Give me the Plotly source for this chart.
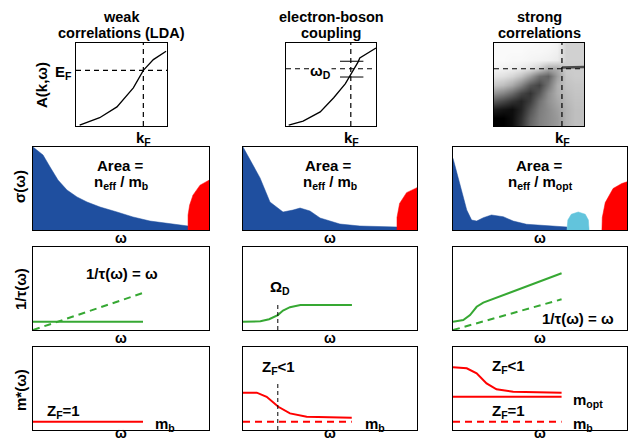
import plotly.graph_objects as go

W, H = 631, 443

# ---------------- data ----------------
# Row 1: dispersion A(k, w)  (k and energy as panel fractions)
lda_k = [0.04, 0.26, 0.45, 0.63, 0.74, 0.85, 0.99]
lda_e = [0.01, 0.10, 0.23, 0.46, 0.67, 0.80, 0.90]
eb_k = [0.03, 0.19, 0.38, 0.53, 0.66, 0.71, 0.74, 0.77, 0.80, 0.82, 0.90, 1.00]
eb_e = [0.01, 0.06, 0.17, 0.34, 0.51, 0.60, 0.67, 0.72, 0.77, 0.82, 0.87, 0.94]
kF_pos = [0.74, 0.72, 0.755]
EF_pos = [0.67, 0.69, 0.69]
wD_levels = [0.78, 0.59]
wD_k = [0.60, 0.86]
qp_k = [0.755, 1.0]
qp_e = [0.705, 0.71]
spec_k = [0.0, 0.1, 0.2, 0.3, 0.4, 0.5, 0.6, 0.7, 0.8, 0.9, 1.0]
spec_e = [0.0, 0.1, 0.2, 0.3, 0.4, 0.5, 0.6, 0.7, 0.8, 0.9, 1.0]
spec_z = [
    [1.00, 1.00, 0.95, 0.80, 0.60, 0.50, 0.45, 0.40, 0.30, 0.25, 0.25],
    [1.00, 1.00, 0.95, 0.82, 0.62, 0.50, 0.45, 0.40, 0.30, 0.25, 0.25],
    [0.88, 0.92, 0.95, 0.86, 0.68, 0.52, 0.45, 0.38, 0.30, 0.25, 0.25],
    [0.65, 0.72, 0.80, 0.86, 0.76, 0.56, 0.43, 0.35, 0.28, 0.24, 0.24],
    [0.42, 0.48, 0.58, 0.72, 0.80, 0.66, 0.45, 0.32, 0.26, 0.23, 0.23],
    [0.22, 0.26, 0.34, 0.48, 0.66, 0.74, 0.54, 0.32, 0.24, 0.22, 0.22],
    [0.10, 0.12, 0.16, 0.24, 0.38, 0.56, 0.62, 0.38, 0.22, 0.20, 0.20],
    [0.04, 0.05, 0.06, 0.08, 0.11, 0.18, 0.32, 0.32, 0.20, 0.20, 0.20],
    [0.02, 0.02, 0.03, 0.03, 0.04, 0.05, 0.06, 0.08, 0.18, 0.18, 0.18],
    [0.02, 0.02, 0.02, 0.02, 0.03, 0.03, 0.04, 0.06, 0.18, 0.18, 0.18],
    [0.02, 0.02, 0.02, 0.02, 0.02, 0.03, 0.03, 0.05, 0.18, 0.18, 0.18],
]

# Row 2: optical conductivity sigma(w)
s1_w = [0, 0.057, 0.097, 0.142, 0.193, 0.25, 0.307, 0.381, 0.477, 0.568, 0.665, 0.761, 0.881]
s1_v = [1.0, 0.904, 0.759, 0.602, 0.482, 0.398, 0.337, 0.277, 0.217, 0.157, 0.108, 0.084, 0.048]
r1_w = [0.881, 0.881, 0.89, 0.909, 0.949, 1.0, 1.0]
r1_v = [0, 0.18, 0.30, 0.42, 0.54, 0.60, 0]
s2_w = [0, 0.057, 0.098, 0.155, 0.23, 0.287, 0.328, 0.385, 0.443, 0.557, 0.672, 0.885]
s2_v = [1.0, 0.783, 0.627, 0.337, 0.217, 0.24, 0.265, 0.229, 0.145, 0.072, 0.048, 0.036]
r2_w = [0.885, 0.885, 0.90, 0.94, 1.0, 1.0]
r2_v = [0, 0.15, 0.32, 0.45, 0.51, 0]
s3_w = [0, 0.021, 0.04, 0.059, 0.079, 0.107, 0.136, 0.174, 0.221, 0.289, 0.346, 0.423, 0.519, 0.655]
s3_v = [0.864, 0.703, 0.542, 0.382, 0.241, 0.12, 0.108, 0.148, 0.181, 0.16, 0.108, 0.069, 0.052, 0.036]
lb3_w = [0.655, 0.66, 0.68, 0.72, 0.76, 0.778, 0.782]
lb3_v = [0, 0.12, 0.19, 0.217, 0.19, 0.12, 0]
r3_w = [0.856, 0.858, 0.875, 0.92, 0.97, 1.0, 1.0]
r3_v = [0, 0.15, 0.33, 0.50, 0.56, 0.58, 0]

# Row 3: scattering rate 1/tau(w)
t1_sol_w = [0, 0.625]
t1_sol_v = [0.10, 0.10]
t1_das_w = [0, 0.625]
t1_das_v = [0, 0.446]
t2_w = [0, 0.10, 0.15, 0.20, 0.23, 0.27, 0.33, 0.626]
t2_v = [0.10, 0.105, 0.13, 0.18, 0.235, 0.275, 0.30, 0.30]
OmD_pos = 0.20
OmD_top = 0.337
t3_sol_w = [0, 0.059, 0.098, 0.136, 0.174, 0.624]
t3_sol_v = [0.10, 0.12, 0.18, 0.28, 0.33, 0.683]
t3_das_w = [0, 0.624]
t3_das_v = [0, 0.37]

# Row 4: mass enhancement m*(w)
m1_w = [0, 0.625]
m1_v = [0.10, 0.10]
m2_w = [0, 0.079, 0.136, 0.203, 0.27, 0.366, 0.625]
m2_v = [0.45, 0.45, 0.40, 0.28, 0.20, 0.16, 0.148]
m2b_w = [0, 0.625]
m2b_v = [0.10, 0.10]
m2_mark_top = 0.56
m3_w = [0, 0.079, 0.136, 0.193, 0.25, 0.346, 0.624]
m3_v = [0.755, 0.743, 0.683, 0.562, 0.49, 0.462, 0.45]
m3opt_w = [0, 0.624]
m3opt_v = [0.40, 0.40]
m3b_w = [0, 0.624]
m3b_v = [0.10, 0.10]

titles = [["weak", "correlations (LDA)"], ["electron-boson", "coupling"], ["strong", "correlations"]]

# ---------------- layout helpers ----------------
BLUE = "#1f4f9f"
LBLUE = "#62c4dc"
RED = "#ff0000"
GREEN = "#36a833"
FONT = "Liberation Sans, Arial, sans-serif"

row1_x = [(76, 167), (286, 376), (494, 584)]
row1_y = (43, 126)
cols_x = [(33, 209), (243, 417), (453, 627)]
rows_y = [(147, 230), (247, 330), (347, 430)]

boxes = []
for c in range(3):
    boxes.append((row1_x[c], row1_y))
for r in range(3):
    for c in range(3):
        boxes.append((cols_x[c], rows_y[r]))

fig = go.Figure()
layout = {}
for i, ((x0, x1), (y0, y1)) in enumerate(boxes, start=1):
    sx = "" if i == 1 else str(i)
    ax = dict(domain=[x0 / W, x1 / W], range=[0, 1], showline=True, mirror=True,
              linecolor="black", linewidth=1, showgrid=False, zeroline=False,
              showticklabels=False, ticks="", anchor="y" + sx, fixedrange=True)
    ay = dict(domain=[1 - y1 / H, 1 - y0 / H], range=[0, 1], showline=True, mirror=True,
              linecolor="black", linewidth=1, showgrid=False, zeroline=False,
              showticklabels=False, ticks="", anchor="x" + sx, fixedrange=True)
    layout["xaxis" + sx] = ax
    layout["yaxis" + sx] = ay


def ax(i):
    s = "" if i == 1 else str(i)
    return dict(xaxis="x" + s, yaxis="y" + s)


def line(i, x, y, color, width=2, dash="solid"):
    fig.add_trace(go.Scatter(x=x, y=y, mode="lines", line=dict(color=color, width=width, dash=dash),
                             hoverinfo="skip", showlegend=False, **ax(i)))


def area(i, x, y, color, fill="tozeroy"):
    fig.add_trace(go.Scatter(x=x, y=y, mode="lines", line=dict(color=color, width=0.5),
                             fill=fill, fillcolor=color, hoverinfo="skip", showlegend=False, **ax(i)))


# Row 1
fig.add_trace(go.Heatmap(x=spec_k, y=spec_e, z=spec_z, zmin=0, zmax=1, zsmooth="best",
                         colorscale=[[0, "#ffffff"], [1, "#000000"]], showscale=False,
                         hoverinfo="skip", **ax(3)))
line(1, lda_k, lda_e, "black", 1.3)
line(2, eb_k, eb_e, "black", 1.3)
for lev in wD_levels:
    line(2, wD_k, [lev, lev], "black", 1)
line(3, qp_k, qp_e, "#4a4a4a", 2.5)
for c in range(3):
    line(c + 1, [kF_pos[c], kF_pos[c]], [0, 1], "black", 1.2, "5px,4px")
    line(c + 1, [0, 1], [EF_pos[c], EF_pos[c]], "black", 1.2, "5px,4px")

# Row 2
area(4, s1_w + [s1_w[-1]], s1_v + [0], BLUE)
area(4, r1_w, r1_v, RED, "toself")
area(5, s2_w + [s2_w[-1]], s2_v + [0], BLUE)
area(5, r2_w, r2_v, RED, "toself")
area(6, s3_w + [s3_w[-1]], s3_v + [0], BLUE)
area(6, lb3_w, lb3_v, LBLUE, "toself")
area(6, r3_w, r3_v, RED, "toself")

# Row 3
line(7, t1_sol_w, t1_sol_v, GREEN, 2)
line(7, t1_das_w, t1_das_v, GREEN, 2, "7px,5px")
line(8, t2_w, t2_v, GREEN, 2)
line(8, [OmD_pos, OmD_pos], [0, OmD_top], "black", 1, "4px,3px")
line(9, t3_sol_w, t3_sol_v, GREEN, 2)
line(9, t3_das_w, t3_das_v, GREEN, 2, "7px,5px")

# Row 4
line(10, m1_w, m1_v, RED, 2)
line(11, m2_w, m2_v, RED, 2)
line(11, m2b_w, m2b_v, RED, 2, "7px,5px")
line(11, [OmD_pos, OmD_pos], [0, m2_mark_top], "black", 1, "4px,3px")
line(12, m3_w, m3_v, RED, 2)
line(12, m3opt_w, m3opt_v, RED, 2)
line(12, m3b_w, m3b_v, RED, 2, "7px,5px")

# ---------------- text ----------------
ann = []


def txt(s, x, y, size=15, xa="center", ya="middle", angle=0, bg=None):
    d = dict(text="<b>" + s + "</b>", x=x / W, y=1 - y / H, xref="paper", yref="paper",
             showarrow=False, xanchor=xa, yanchor=ya, textangle=angle,
             font=dict(family=FONT, size=size, color="black"))
    if bg:
        d["bgcolor"] = bg
        d["borderpad"] = 0
    ann.append(d)


centers = [121, 331, 539]
for c in range(3):
    txt(titles[c][0], centers[c], 17, size=14.5)
    txt(titles[c][1], centers[c], 33, size=14.5)

txt("A(k,ω)", 41, 85, angle=-90)
txt("E<sub>F</sub>", 74, 72, xa="right")
txt("ω<sub>D</sub>", 309, 71, xa="left", bg="white")
kf_px = [143, 351, 562]
for c in range(3):
    txt("k<sub>F</sub>", kf_px[c], 127, ya="top")

# Row 2
txt("σ(ω)", 20, 187, angle=-90)
area_cx = [120, 329, 539]
sub_end = ["m<sub>b</sub>", "m<sub>b</sub>", "m<sub>opt</sub>"]
for c in range(3):
    txt("Area =", area_cx[c], 165)
    txt("n<sub>eff</sub> / " + sub_end[c], area_cx[c] + 1, 182)
omega_cx = [121, 330, 540]
for r in range(2):
    for c in range(3):
        txt("ω", omega_cx[c], rows_y[r][1] + 8, size=14)
for c in range(3):
    txt("ω", omega_cx[c], H, size=14, ya="bottom")

# Row 3
txt("1/τ(ω)", 20, 289, angle=-90)
txt("1/τ(ω) = ω", 122, 273)
txt("Ω<sub>D</sub>", 268, 287, xa="left")
txt("1/τ(ω) = ω", 616, 318, xa="right")

# Row 4
txt("m*(ω)", 20, 390, angle=-90)
txt("Z<sub>F</sub>=1", 45, 411, xa="left")
txt("m<sub>b</sub>", 153, 424, xa="left")
txt("Z<sub>F</sub><1", 260, 367, xa="left")
txt("m<sub>b</sub>", 363, 424, xa="left")
txt("Z<sub>F</sub><1", 490, 366, xa="left")
txt("m<sub>opt</sub>", 571, 400, xa="left")
txt("Z<sub>F</sub>=1", 490, 411, xa="left")
txt("m<sub>b</sub>", 571, 424, xa="left")

fig.update_layout(width=W, height=H, margin=dict(l=0, r=0, t=0, b=0),
                  paper_bgcolor="white", plot_bgcolor="white", showlegend=False,
                  annotations=ann, **layout)

fig.write_html("out.html", config={"displayModeBar": False},
               post_script="document.body.style.margin='0px';document.body.style.padding='0px';")
